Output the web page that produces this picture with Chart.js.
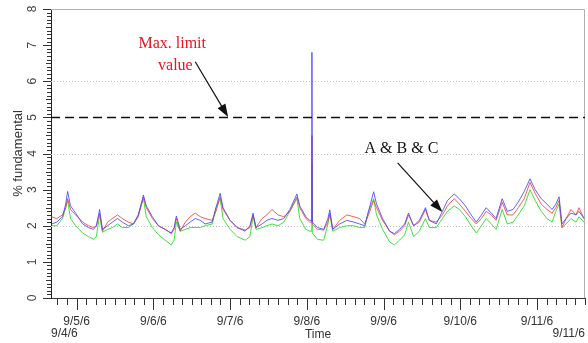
<!DOCTYPE html>
<html>
<head>
<meta charset="utf-8">
<script src="https://cdn.jsdelivr.net/npm/chart.js@4.4.0/dist/chart.umd.min.js"></script>
<style>
  html, body { margin: 0; padding: 0; background: #fff; }
  #wrap { width: 588px; height: 343px; }
</style>
</head>
<body>
<div id="wrap"><canvas id="chart"></canvas></div>
<script>
// time in hours from 9/4/6 00:00
const hours = [
  16.2, 17.8, 19.6, 20.6, 21.2, 22.1, 23.7, 25.9, 27.7, 29.3,
  30.2, 31.2, 32.1, 33.7, 35.2, 36.8, 38.3, 40.2, 41.8, 43.3,
  44.9, 45.8, 47.7, 49.6, 51.7, 53.6, 54.5, 55.2, 56.4, 58.0,
  59.5, 61.1, 62.7, 64.2, 66.4, 67.6, 68.9, 69.8, 72.0, 74.2,
  76.7, 78.2, 79.2, 80.1, 82.0, 83.5, 85.1, 87.0, 88.8, 90.7,
  92.9, 93.8, 95.7, 96.9, 97.5, 97.6, 97.7, 99.4, 101.3, 102.6,
  103.2, 104.1, 106.3, 108.5, 110.7, 112.5, 114.1, 115.3, 116.9, 117.8,
  119.7, 121.9, 123.4, 125.0, 126.6, 127.8, 129.4, 131.2, 133.1, 134.3,
  136.5, 138.4, 140.0, 142.1, 143.7, 145.6, 147.4, 149.0, 150.6, 152.1,
  153.7, 155.2, 157.1, 158.7, 160.5, 162.1, 164.0, 165.8, 167.4, 169.3,
  171.1, 172.7, 173.9, 174.9, 175.8, 177.1, 178.6, 180.2, 181.1, 182.7
];

const phaseA = [ // red
  2.25, 2.2, 2.3, 2.5, 2.75, 2.45, 2.3, 2.1, 2.0, 1.95,
  2.0, 2.35, 1.85, 2.1, 2.2, 2.3, 2.2, 2.1, 2.05, 2.25,
  2.8, 2.5, 2.2, 2.0, 1.9, 1.78, 1.9, 2.2, 1.85, 2.1,
  2.25, 2.35, 2.25, 2.2, 2.15, 2.4, 2.8, 2.45, 2.15, 1.95,
  1.88, 1.95, 2.3, 1.95, 2.2, 2.3, 2.45, 2.3, 2.25, 2.4,
  2.8, 2.5, 2.2, 2.1, 2.1, 4.5, 2.05, 1.9, 1.88, 2.1,
  2.35, 1.9, 2.15, 2.3, 2.25, 2.2, 2.05, 2.3, 2.7, 2.5,
  2.15, 1.85, 1.75, 1.85, 2.0, 2.3, 2.0, 2.1, 2.45, 2.15,
  2.1, 2.3, 2.55, 2.75, 2.6, 2.4, 2.2, 2.05, 2.2, 2.4,
  2.3, 2.15, 2.65, 2.3, 2.3, 2.5, 2.75, 3.2, 2.9, 2.6,
  2.45, 2.35, 2.5, 2.7, 1.95, 2.2, 2.45, 2.3, 2.5, 2.2
];

const phaseB = [ // blue
  2.05, 2.1, 2.25, 2.6, 2.95, 2.55, 2.35, 2.05, 1.95, 1.9,
  2.0, 2.45, 1.9, 2.0, 2.1, 2.2, 2.1, 2.0, 2.05, 2.3,
  2.85, 2.55, 2.25, 2.0, 1.9, 1.8, 1.95, 2.27, 1.9, 2.0,
  2.1, 2.2, 2.15, 2.05, 2.1, 2.5, 2.9, 2.5, 2.15, 1.95,
  1.85, 2.0, 2.35, 1.95, 2.05, 2.15, 2.2, 2.15, 2.2, 2.45,
  2.88, 2.55, 2.25, 2.15, 2.15, 6.8, 2.1, 1.95, 1.9, 2.2,
  2.44, 1.9, 2.05, 2.15, 2.1, 2.05, 2.0, 2.4, 2.94, 2.6,
  2.2, 1.85, 1.78, 1.9, 2.05, 2.35, 2.0, 2.15, 2.5, 2.15,
  2.05, 2.4, 2.7, 2.88, 2.75, 2.55, 2.3, 2.1, 2.3, 2.5,
  2.35, 2.2, 2.75, 2.4, 2.45, 2.65, 2.95, 3.3, 3.0, 2.75,
  2.6, 2.45, 2.6, 2.8, 2.05, 2.2, 2.35, 2.3, 2.4, 2.2
];

const phaseC = [ // green
  2.0, 2.0, 2.2, 2.5, 2.7, 2.2, 2.0, 1.8, 1.7, 1.63,
  1.7, 2.3, 1.82, 1.9, 1.95, 2.05, 1.95, 1.95, 2.05, 2.3,
  2.75, 2.25, 1.95, 1.75, 1.6, 1.47, 1.6, 2.1, 1.85, 1.9,
  1.95, 1.95, 1.95, 2.0, 2.05, 2.5, 2.75, 2.2, 1.9, 1.7,
  1.6, 1.7, 2.25, 1.9, 1.95, 2.0, 2.05, 2.0, 2.1, 2.4,
  2.75, 2.2, 1.9, 1.85, 1.85, 3.7, 1.8, 1.62, 1.6, 2.05,
  2.3, 1.85, 1.95, 2.0, 2.0, 1.95, 1.95, 2.4, 2.75, 2.3,
  1.9, 1.55, 1.47, 1.6, 1.75, 2.1, 1.7, 1.85, 2.2, 1.95,
  1.95, 2.2, 2.4, 2.55, 2.45, 2.25, 2.0, 1.8, 2.0, 2.2,
  2.05, 1.9, 2.45, 2.05, 2.1, 2.3, 2.55, 3.0, 2.7, 2.4,
  2.2, 2.1, 2.4, 2.6, 1.95, 2.05, 2.2, 2.1, 2.25, 2.1
];

const limitValue = 5;
const dayLabels = ['9/4/6', '9/5/6', '9/6/6', '9/7/6', '9/8/6', '9/9/6', '9/10/6', '9/11/6'];
const startLabel = '9/4/6';
const endLabel = '9/11/6';
const yTickValues = [0, 1, 2, 3, 4, 5, 6, 7, 8];

const xMin = 16, xMax = 183;

function toPoints(vals) {
  return vals.map((v, i) => ({ x: hours[i], y: v }));
}

function arrow(ctx, x1, y1, x2, y2) {
  const ang = Math.atan2(y2 - y1, x2 - x1);
  const len = 13, w = 4.5;
  ctx.beginPath();
  ctx.moveTo(x1, y1);
  ctx.lineTo(x2 - Math.cos(ang) * len * 0.8, y2 - Math.sin(ang) * len * 0.8);
  ctx.stroke();
  ctx.beginPath();
  ctx.moveTo(x2, y2);
  ctx.lineTo(x2 - Math.cos(ang) * len + Math.sin(ang) * w, y2 - Math.sin(ang) * len - Math.cos(ang) * w);
  ctx.lineTo(x2 - Math.cos(ang) * len - Math.sin(ang) * w, y2 - Math.sin(ang) * len + Math.cos(ang) * w);
  ctx.closePath();
  ctx.fill();
}

// dotted grid + frame behind the lines
const gridPlugin = {
  id: 'gridPlugin',
  beforeDatasetsDraw(chart) {
    const { ctx, chartArea: a, scales: { y } } = chart;
    ctx.save();
    ctx.strokeStyle = '#c4c4c4';
    ctx.lineWidth = 1;
    ctx.setLineDash([1, 2]);
    [2, 4, 6].forEach(v => {
      const py = Math.round(y.getPixelForValue(v)) + 0.5;
      ctx.beginPath();
      ctx.moveTo(a.left, py);
      ctx.lineTo(a.right, py);
      ctx.stroke();
    });
    ctx.setLineDash([]);
    ctx.strokeStyle = '#b0b0b0';
    ctx.beginPath();
    ctx.moveTo(a.left, a.top + 0.5);
    ctx.lineTo(a.right - 0.5, a.top + 0.5);
    ctx.lineTo(a.right - 0.5, a.bottom);
    ctx.stroke();
    ctx.restore();
  }
};

// ticks, rotated y labels, extra date labels, annotations
const decorPlugin = {
  id: 'decorPlugin',
  afterDraw(chart) {
    const { ctx, chartArea: a, scales: { x, y } } = chart;
    ctx.save();
    ctx.strokeStyle = '#333';
    ctx.lineWidth = 1;

    // y ticks every 0.1
    for (let i = 0; i <= 80; i++) {
      const py = Math.round(y.getPixelForValue(i / 10)) + 0.5;
      const len = i % 10 === 0 ? 8 : (i % 5 === 0 ? 5 : 4);
      ctx.beginPath();
      ctx.moveTo(a.left - len, py);
      ctx.lineTo(a.left, py);
      ctx.stroke();
    }

    // x ticks every 3 h, long at midnight
    for (let h = Math.ceil(xMin / 3) * 3; h <= xMax; h += 3) {
      const px = Math.round(x.getPixelForValue(h)) + 0.5;
      const len = h % 24 === 0 ? 11 : 6;
      ctx.beginPath();
      ctx.moveTo(px, a.bottom + 1);
      ctx.lineTo(px, a.bottom + 1 + len);
      ctx.stroke();
    }

    // rotated y tick labels
    ctx.fillStyle = '#444';
    ctx.font = '12px "Liberation Sans", Arial, sans-serif';
    ctx.textAlign = 'center';
    ctx.textBaseline = 'middle';
    yTickValues.forEach(v => {
      ctx.save();
      ctx.translate(33, y.getPixelForValue(v));
      ctx.rotate(-Math.PI / 2);
      ctx.fillText(String(v), 0, 0);
      ctx.restore();
    });

    // start / end date labels on second row
    ctx.fillStyle = '#333';
    ctx.textAlign = 'left';
    ctx.fillText(startLabel, a.left, 334);
    ctx.textAlign = 'right';
    ctx.fillText(endLabel, a.right, 334);

    // annotations
    ctx.font = '16px "Liberation Serif", "Times New Roman", serif';
    ctx.textAlign = 'center';
    ctx.fillStyle = '#e8141c';
    ctx.fillText('Max. limit', x.getPixelForValue(53.9), y.getPixelForValue(7.04));
    ctx.fillText('value', x.getPixelForValue(54.9), y.getPixelForValue(6.43));
    ctx.fillStyle = '#111';
    ctx.fillText('A & B & C', x.getPixelForValue(125.6), y.getPixelForValue(4.13));

    ctx.strokeStyle = '#111';
    ctx.fillStyle = '#111';
    ctx.lineWidth = 1.2;
    arrow(ctx, x.getPixelForValue(61.1), y.getPixelForValue(6.54),
               x.getPixelForValue(71.4), y.getPixelForValue(5.01));
    arrow(ctx, x.getPixelForValue(124.4), y.getPixelForValue(3.74),
               x.getPixelForValue(138.4), y.getPixelForValue(2.38));
    ctx.restore();
  }
};

Chart.defaults.font.family = '"Liberation Sans", Arial, sans-serif';

new Chart(document.getElementById('chart'), {
  type: 'line',
  data: {
    datasets: [
      {
        label: 'Limit',
        data: [{ x: xMin, y: limitValue }, { x: xMax, y: limitValue }],
        borderColor: '#111',
        borderWidth: 1.5,
        borderDash: [9, 5],
        pointRadius: 0
      },
      {
        label: 'B',
        data: toPoints(phaseB),
        borderColor: 'rgba(70, 70, 255, 0.85)',
        borderWidth: 1,
        pointRadius: 0
      },
      {
        label: 'A',
        data: toPoints(phaseA),
        borderColor: 'rgba(255, 60, 60, 0.85)',
        borderWidth: 1,
        pointRadius: 0
      },
      {
        label: 'C',
        data: toPoints(phaseC),
        borderColor: 'rgba(40, 225, 40, 0.9)',
        borderWidth: 1,
        pointRadius: 0
      }
    ]
  },
  options: {
    responsive: true,
    maintainAspectRatio: false,
    animation: false,
    layout: { padding: { top: 9, right: 3, left: 0, bottom: 0 } },
    plugins: {
      legend: { display: false },
      tooltip: { enabled: false }
    },
    elements: { line: { tension: 0 } },
    scales: {
      x: {
        type: 'linear',
        min: xMin,
        max: xMax,
        grid: { display: false },
        border: { display: true, color: '#333', width: 1 },
        ticks: {
          stepSize: 3,
          autoSkip: false,
          maxRotation: 0,
          padding: 8,
          color: '#333',
          font: { size: 12 },
          callback: v => (v % 24 === 0 ? dayLabels[v / 24] : '')
        },
        title: {
          display: true,
          text: 'Time',
          color: '#333',
          font: { size: 12 },
          padding: { top: 0, bottom: 1 }
        },
        afterFit: s => { s.height = 45; s.paddingLeft = 0; s.paddingRight = 0; }
      },
      y: {
        min: 0,
        max: 8,
        grid: { display: false },
        border: { display: true, color: '#222', width: 1 },
        ticks: { display: false, stepSize: 1 },
        title: {
          display: true,
          text: '% fundamental',
          color: '#333',
          font: { size: 13 },
          padding: { top: 11, bottom: 0 }
        },
        afterFit: s => { s.width = 51; s.paddingTop = 0; s.paddingBottom = 0; }
      }
    }
  },
  plugins: [gridPlugin, decorPlugin]
});
</script>
</body>
</html>
